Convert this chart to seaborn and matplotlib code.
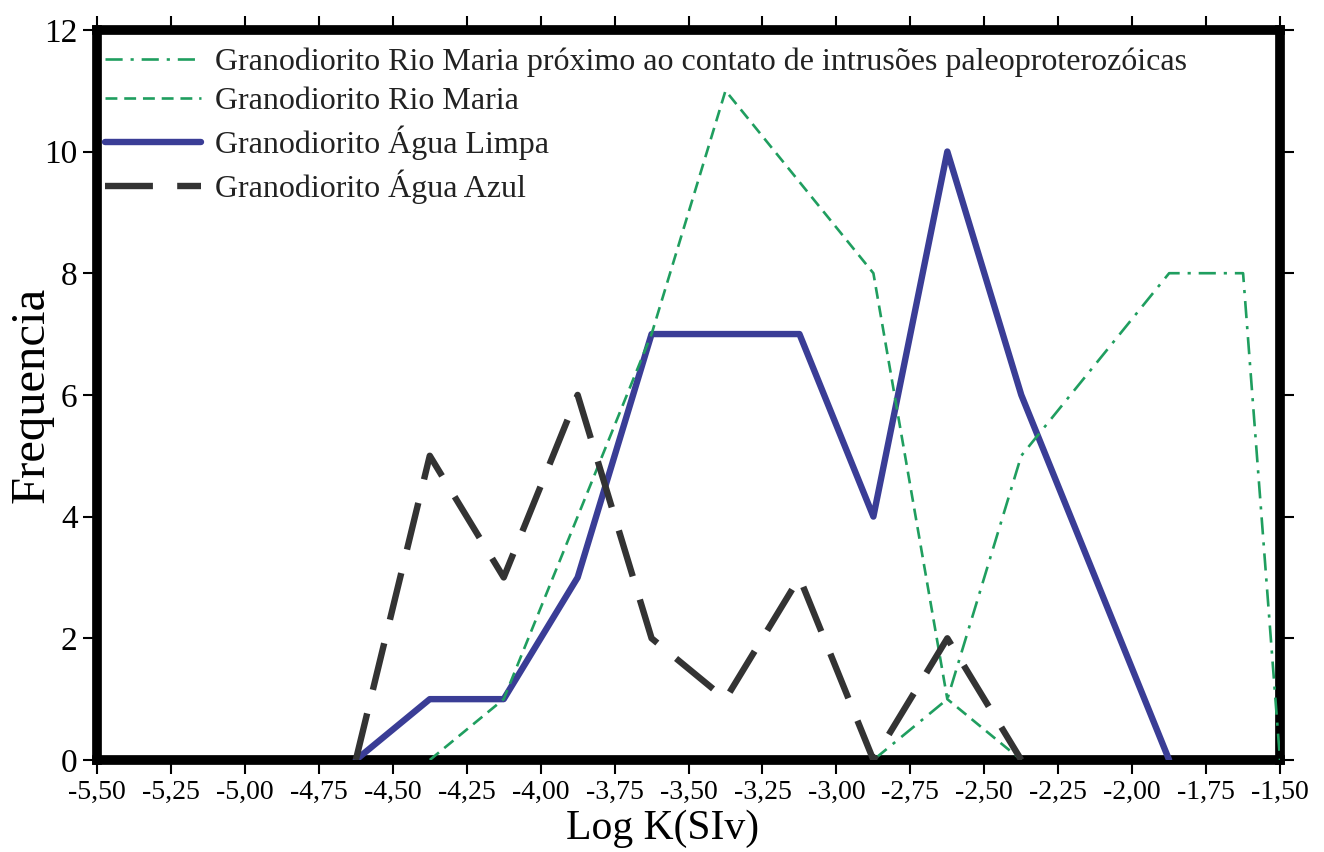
import numpy as np
import pandas as pd
import matplotlib
matplotlib.use("Agg")
import matplotlib.pyplot as plt
import seaborn as sns
from matplotlib.ticker import FixedLocator, FuncFormatter

sns.set_theme(style="white")
plt.rcParams['font.family'] = ['Liberation Serif', 'DejaVu Serif']
plt.rcParams['text.color'] = 'black'
plt.rcParams['axes.labelcolor'] = 'black'

# ---- data ----
x_paleo = [-2.875, -2.625, -2.375, -2.125, -1.875, -1.625, -1.5]
y_paleo = [0, 1, 5, 6.5, 8, 8, 0]

x_rio = [-4.375, -4.125, -3.875, -3.625, -3.375, -3.125, -2.875, -2.625, -2.375]
y_rio = [0, 1, 4, 7, 11, 9.5, 8, 1, 0]

x_limpa = [-4.625, -4.375, -4.125, -3.875, -3.625, -3.375, -3.125, -2.875, -2.625, -2.375, -2.125, -1.875]
y_limpa = [0, 1, 1, 3, 7, 7, 7, 4, 10, 6, 3, 0]

x_azul = [-4.625, -4.375, -4.125, -3.875, -3.625, -3.375, -3.125, -2.875, -2.625, -2.375]
y_azul = [0, 5, 3, 6, 2, 1, 3, 0, 2, 0]

labels = [
    "Granodiorito Rio Maria próximo ao contato de intrusões paleoproterozóicas",
    "Granodiorito Rio Maria",
    "Granodiorito Água Limpa",
    "Granodiorito Água Azul",
]
x_ticks = [-5.5, -5.25, -5.0, -4.75, -4.5, -4.25, -4.0, -3.75, -3.5, -3.25,
           -3.0, -2.75, -2.5, -2.25, -2.0, -1.75, -1.5]
y_ticks = [0, 2, 4, 6, 8, 10, 12]

green = "#1f9e5f"
blue = "#3a3d96"
dark = "#333333"

fig = plt.figure(figsize=(13.24, 8.52), dpi=100)
ax = fig.add_axes([0.0733, 0.108, 0.8935, 0.857])

sns.lineplot(x=x_limpa, y=y_limpa, ax=ax, color=blue, lw=4.6,
             ls="-", label=labels[2], zorder=3, sort=False)
sns.lineplot(x=x_rio, y=y_rio, ax=ax, color=green, lw=1.9,
             ls=(0, (4.5, 2.6)), label=labels[1], zorder=4, sort=False)
sns.lineplot(x=x_paleo, y=y_paleo, ax=ax, color=green, lw=1.9,
             ls=(0, (6.5, 3.0, 1.2, 3.0)), label=labels[0], zorder=4, sort=False)
sns.lineplot(x=x_azul, y=y_azul, ax=ax, color=dark, lw=4.6,
             ls=(0, (7.5, 3.8)), label=labels[3], zorder=5, sort=False)

ax.set_xlim(-5.5, -1.5)
ax.set_ylim(0, 12)
ax.xaxis.set_major_locator(FixedLocator(x_ticks))
ax.yaxis.set_major_locator(FixedLocator(y_ticks))
ax.xaxis.set_major_formatter(FuncFormatter(lambda v, p: f"{v:.2f}".replace(".", ",")))
ax.yaxis.set_major_formatter(FuncFormatter(lambda v, p: f"{int(round(v))}"))

for s in ax.spines.values():
    s.set_visible(True)
    s.set_linewidth(7)
    s.set_color("black")

ax.tick_params(axis="both", which="major", direction="out", length=10, width=1.5,
               color="black", top=True, right=True, bottom=True, left=True,
               labeltop=False, labelright=False, pad=4)
ax.tick_params(axis="x", labelsize=20, labelcolor="black")
ax.tick_params(axis="y", labelsize=24, labelcolor="black")

ax.set_xlabel("Log K(SIv)", fontsize=30)
ax.set_ylabel("Frequencia", fontsize=35)
ax.xaxis.set_label_coords(0.478, -0.068)
ax.yaxis.set_label_coords(-0.037, 0.5)

handles, lbls = ax.get_legend_handles_labels()
order = [lbls.index(l) for l in labels]
leg = ax.legend([handles[i] for i in order], [lbls[i] for i in order],
                loc="upper left", frameon=False, fontsize=23,
                handlelength=3.0, handletextpad=0.45, labelspacing=0.3,
                borderaxespad=0.0, borderpad=0.25, bbox_to_anchor=(0.0, 0.987))
for t in leg.get_texts():
    t.set_color("#222222")

fig.savefig("out.png", dpi=100)
